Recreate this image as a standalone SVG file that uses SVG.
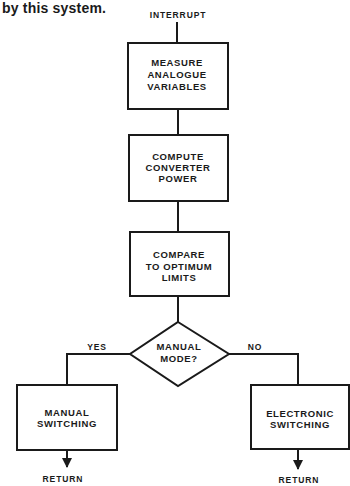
<svg xmlns="http://www.w3.org/2000/svg" width="350" height="486" viewBox="0 0 350 486">
<style>
text{font-family:"Liberation Sans",Arial,sans-serif;font-weight:bold;fill:#1a1a1a;text-anchor:middle;}
.t{font-size:9.5px;letter-spacing:0.6px;}
.s{font-size:8.5px;letter-spacing:0.9px;}
.b{fill:#fff;stroke:#1a1a1a;stroke-width:2;}
.c{fill:none;stroke:#1a1a1a;stroke-width:2;}
</style>
<defs>
<marker id="ah" viewBox="0 0 10 10" refX="9" refY="5" markerWidth="5" markerHeight="5" orient="auto" markerUnits="strokeWidth">
<path d="M0,0 L10,5 L0,10 z" fill="#1a1a1a"/>
</marker>
</defs>
<rect width="350" height="486" fill="#fff"/>
<text x="2" y="13" style="font-size:14px;text-anchor:start;letter-spacing:0.2px">by this system.</text>
<text class="s" x="178" y="18">INTERRUPT</text>
<g id="connectors">
<path class="c" d="M177,22 V43"/>
<path class="c" d="M178,109 V135"/>
<path class="c" d="M178,201 V232"/>
<path class="c" d="M178,296 V322"/>
<path class="c" d="M130,354 H67 V385"/>
<path class="c" d="M229,354 H298 V385"/>
<path class="c" d="M67,450 V467" marker-end="url(#ah)"/>
<path class="c" d="M298,449 V469" marker-end="url(#ah)"/>
</g>
<g id="measure">
<rect class="b" x="128" y="43" width="100" height="66"/>
<text class="t" x="177" y="66">MEASURE</text>
<text class="t" x="177" y="78">ANALOGUE</text>
<text class="t" x="177" y="90">VARIABLES</text>
</g>
<g id="compute">
<rect class="b" x="129" y="135" width="99" height="66"/>
<text class="t" x="178" y="160">COMPUTE</text>
<text class="t" x="178" y="171">CONVERTER</text>
<text class="t" x="178" y="182">POWER</text>
</g>
<g id="compare">
<rect class="b" x="130" y="232" width="99" height="64"/>
<text class="t" x="179" y="258">COMPARE</text>
<text class="t" x="179" y="270">TO OPTIMUM</text>
<text class="t" x="179" y="281">LIMITS</text>
</g>
<g id="decision">
<path class="b" d="M178,322 L229,354 L178,386 L130,354 Z"/>
<text class="t" x="179" y="350">MANUAL</text>
<text class="t" x="179" y="362">MODE?</text>
</g>
<text class="s" x="97" y="350">YES</text>
<text class="s" x="255" y="350">NO</text>
<g id="manual">
<rect class="b" x="17" y="385" width="100" height="65"/>
<text class="t" x="67" y="416">MANUAL</text>
<text class="t" x="67" y="427">SWITCHING</text>
</g>
<g id="electronic">
<rect class="b" x="251" y="385" width="98" height="64"/>
<text class="t" x="300" y="417">ELECTRONIC</text>
<text class="t" x="300" y="428">SWITCHING</text>
</g>
<text class="s" x="63" y="482">RETURN</text>
<text class="s" x="299" y="483">RETURN</text>
</svg>
